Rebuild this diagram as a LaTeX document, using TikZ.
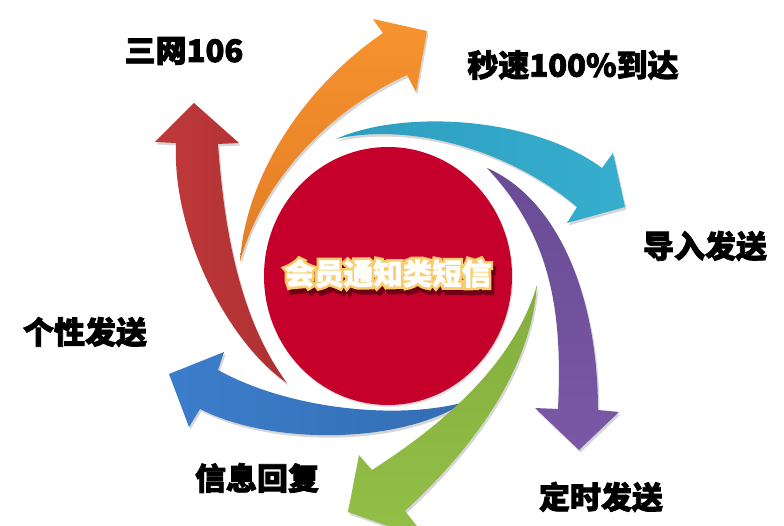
\documentclass[tikz,border=0pt]{standalone}
\usepackage{fontspec}
\newfontfamily\cjk{Noto Sans CJK SC}[BoldFeatures={FakeBold=2.5}]
\newfontfamily\cjkglow{Noto Sans CJK SC}[BoldFeatures={FakeBold=19}]
\newfontfamily\cjktitle{Noto Sans CJK SC}[BoldFeatures={FakeBold=1.5}]
\usetikzlibrary{shapes.geometric}
\definecolor{cRed}{HTML}{C0393B}
\definecolor{cRedD}{HTML}{AE3033}
\definecolor{cOrange}{HTML}{F7932F}
\definecolor{cOrangeD}{HTML}{E27D25}
\definecolor{cTeal}{HTML}{36AECD}
\definecolor{cTealD}{HTML}{2E9DC0}
\definecolor{cPurple}{HTML}{7A58A6}
\definecolor{cPurpleD}{HTML}{684C94}
\definecolor{cGreen}{HTML}{93BF48}
\definecolor{cGreenD}{HTML}{84AE3E}
\definecolor{cBlue}{HTML}{3C7DCB}
\definecolor{cBlueD}{HTML}{346EB4}
\definecolor{cCircle}{HTML}{C4002B}
\definecolor{cGlow}{HTML}{F7CD6E}
\definecolor{cShadowTxt}{HTML}{3A0008}
\colorlet{cShadowMix}{cShadowTxt!60!cCircle}
\newcommand\titletext{会员通知类短信}
\begin{document}
\begin{tikzpicture}[x=1pt,y=-1pt,
  arrowshape/.style={preaction={fill=black,fill opacity=0.16,transform canvas={shift={(1.5pt,-2.5pt)}}}},
  lbl/.style={font=\cjk\bfseries\fontsize{31}{31}\selectfont, inner sep=0pt, text=black},
  ctext/.style={font=\cjktitle\bfseries\fontsize{29.5}{29.5}\selectfont, inner sep=0pt},
  hubstyle/.style={ellipse, fill=cCircle, minimum width=248pt, minimum height=258pt, inner sep=0pt}
  ]
\useasboundingbox (0,0) rectangle (784,526);
\fill[white] (0,0) rectangle (784,526);

% central circle
\node[hubstyle, preaction={fill=black,fill opacity=0.12,transform canvas={shift={(1pt,-2pt)}}}] (hub) at (388,276) {};

% red arrow (up)
\shade[arrowshape, left color=cRed, right color=cRedD]
  (287,383) .. controls (225,340) and (172,230) .. (176,143) -- (155,142) -- (194,103)
  -- (239,143) -- (218,144) .. controls (224,230) and (240,320) .. (287,383) -- cycle;

% orange arrow (up-right)
\shade[arrowshape, top color=cOrange, bottom color=cOrangeD]
  (240,262) .. controls (245,180) and (300,90) .. (383,33) -- (373,19) -- (427,31)
  -- (416,92) -- (407,75) .. controls (330,110) and (262,180) .. (240,262) -- cycle;

% teal arrow (right)
\shade[arrowshape, left color=cTealD, right color=cTeal]
  (336,139) .. controls (400,110) and (530,115) .. (602,168) -- (613,153) -- (625,207)
  -- (567,223) -- (577,207) .. controls (510,150) and (410,122) .. (336,139) -- cycle;

% purple arrow (down)
\shade[arrowshape, top color=cPurpleD, bottom color=cPurple]
  (487,168) .. controls (560,200) and (598,300) .. (598,410) -- (619,412) -- (579,450)
  -- (535,408) -- (558,409) .. controls (562,320) and (555,240) .. (487,168) -- cycle;

% blue arrow (left)
\shade[arrowshape, left color=cBlue, right color=cBlueD]
  (465,402) .. controls (400,420) and (290,410) .. (218,370) -- (224,352) -- (169,374)
  -- (189,427) -- (200,409) .. controls (270,445) and (400,445) .. (465,402) -- cycle;

% green arrow (down-left)
\shade[arrowshape, top color=cGreenD, bottom color=cGreen]
  (537,285) .. controls (530,380) and (460,460) .. (405,511) -- (428,540) -- (348,512)
  -- (359,455) -- (372,470) .. controls (450,420) and (515,360) .. (537,285) -- cycle;

% central title: shadow, outline glow and white text layered in one node
\node[ctext] (title) at (hub) {%
  \rlap{\kern3pt\raisebox{-5pt}{\cjkglow\bfseries\color{cShadowMix}\titletext}}%
  \rlap{\cjkglow\bfseries\color{cGlow}\titletext}%
  {\color{white}\titletext}};

% labels
\node[lbl] (l1) at (184,51) {三网106};
\node[lbl] (l2) at (573,65) {秒速100\%到达};
\node[lbl] (l3) at (705,246) {导入发送};
\node[lbl] (l4) at (85,332) {个性发送};
\node[lbl] (l5) at (257,478) {信息回复};
\node[lbl] (l6) at (601,497) {定时发送};
\end{tikzpicture}
\end{document}
